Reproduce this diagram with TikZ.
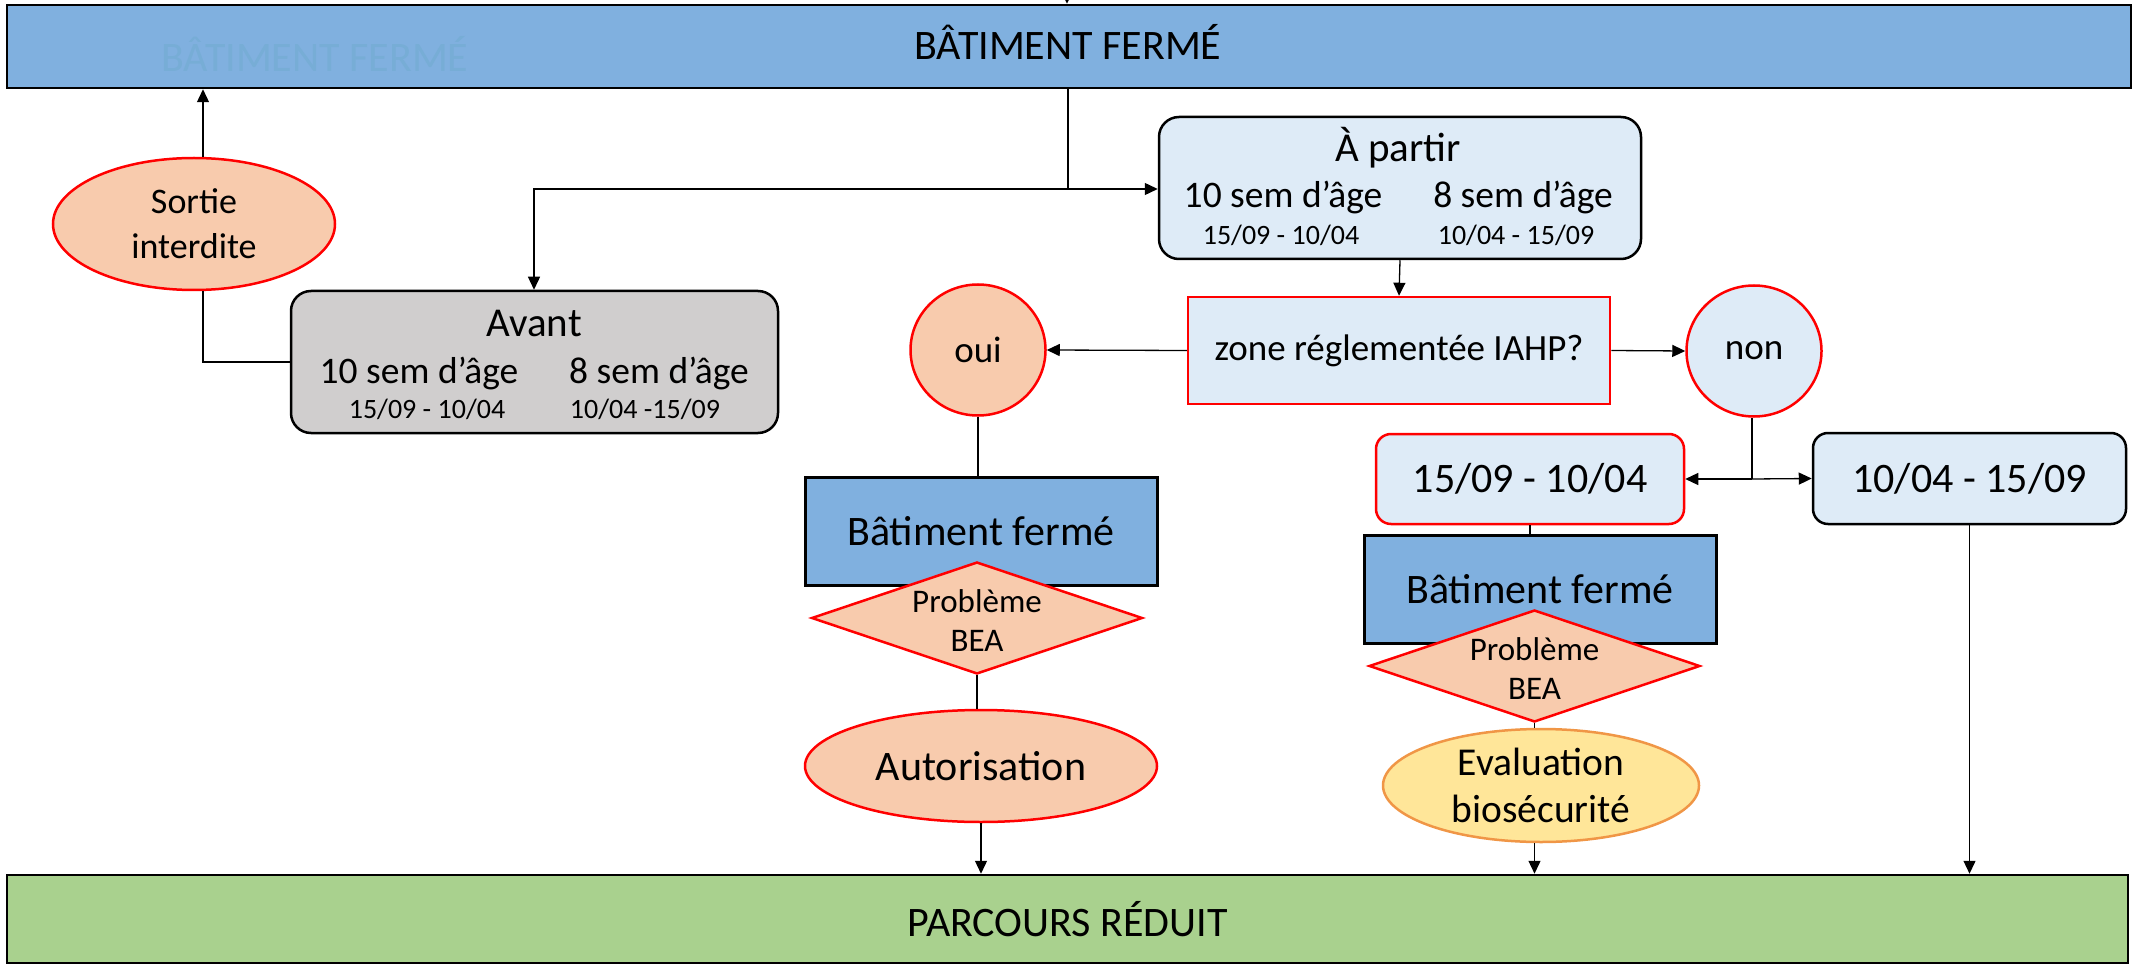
\documentclass[tikz,border=0pt]{standalone}
\usepackage{fontspec}
\setmainfont{Carlito}
\usetikzlibrary{arrows.meta,shapes.geometric}
\definecolor{barblue}{RGB}{128,176,223}
\definecolor{ghost}{RGB}{119,173,214}
\definecolor{bargreen}{RGB}{169,209,142}
\definecolor{lightblue}{RGB}{222,235,247}
\definecolor{greybox}{RGB}{208,206,206}
\definecolor{peach}{RGB}{248,203,173}
\definecolor{paleyellow}{RGB}{255,230,153}
\definecolor{orangeline}{RGB}{240,150,70}
\definecolor{redline}{RGB}{255,0,0}
\tikzset{
  fbig/.style={font=\fontsize{42}{50}\selectfont},
  fhead/.style={font=\fontsize{41}{49}\selectfont},
  fsem/.style={font=\fontsize{37.5}{45}\selectfont},
  fmid/.style={font=\fontsize{37}{45}\selectfont},
  fdate/.style={font=\fontsize{28}{34}\selectfont},
  bar/.style={draw=black, line width=2.5pt, rectangle, inner sep=0pt, fbig},
  rbox/.style={draw=black, line width=2.5pt, rectangle, rounded corners=20pt, inner sep=0pt},
  redbox/.style={draw=redline, line width=2.5pt, fill=lightblue, rectangle, inner sep=0pt},
  redell/.style={draw=redline, line width=2.5pt, ellipse, inner sep=0pt},
  dia/.style={draw=redline, line width=2.5pt, fill=peach, diamond, inner sep=0pt},
  batbox/.style={draw=black, line width=3pt, fill=barblue, rectangle, inner sep=0pt, fbig},
  txt/.style={inner sep=0pt, anchor=base},
  conn/.style={draw=black, line width=1.3pt},
  arr/.style={conn, -{Triangle[length=13pt,width=12pt]}},
}
\begin{document}
\begin{tikzpicture}[x=1pt,y=-1pt]
\useasboundingbox (0,0) rectangle (2138,965);

% bars
\node[bar, fill=barblue, minimum width=2124pt, minimum height=83pt] (top) at (1069,46.5) {};
\node[txt, fbig, text=ghost] (ghosttxt) at (315,72) {BÂTIMENT FERMÉ};
\node[txt, fbig] (toptxt) at (1068,60) {BÂTIMENT FERMÉ};
\node[bar, fill=bargreen, minimum width=2121pt, minimum height=88pt] (bottom) at (1067.5,919) {PARCOURS RÉDUIT};

% left part
\node[redell, fill=peach, minimum width=282pt, minimum height=132pt, align=center, font=\fontsize{36}{45}\selectfont] (sortie) at (194,224) {Sortie\\interdite};
\node[rbox, fill=greybox, minimum width=487pt, minimum height=142pt] (avant) at (534.5,362) {};
\node[txt, fhead] (avt) at (534,337) {Avant};
\node[txt, fsem] (av10) at (419,383) {10 sem d’âge};
\node[txt, fsem] (av8) at (659,383) {8 sem d’âge};
\node[txt, fdate] (avd1) at (427,418) {15/09 - 10/04};
\node[txt, fdate] (avd2) at (645,418) {10/04 -15/09};

% a partir
\node[rbox, fill=lightblue, minimum width=482pt, minimum height=142pt] (apartir) at (1400,188) {};
\node[txt, fhead] (apt) at (1398,162) {À partir};
\node[txt, fsem] (ap10) at (1283,208) {10 sem d’âge};
\node[txt, fsem] (ap8) at (1523,208) {8 sem d’âge};
\node[txt, fdate] (apd1) at (1281,245) {15/09 - 10/04};
\node[txt, fdate] (apd2) at (1516,245) {10/04 - 15/09};

% zone question
\node[redbox, minimum width=422pt, minimum height=107pt, fmid] (zone) at (1399,350.5) {zone réglementée IAHP?};
\node[redell, fill=peach, minimum width=135pt, minimum height=131pt, fmid] (oui) at (978,350) {oui};
\node[redell, fill=lightblue, minimum width=135pt, minimum height=131pt, fmid] (non) at (1754,351) {non};

% oui branch
\node[batbox, minimum width=352pt, minimum height=108pt] (bat1) at (981,531) {Bâtiment fermé};
\node[dia, minimum width=331pt, minimum height=112pt] (dia1) at (977,618) {};
\node[inner sep=0pt, align=center, font=\fontsize{33}{39}\selectfont] (dia1t) at (977,621) {Problème\\BEA};
\node[redell, fill=peach, minimum width=352pt, minimum height=112pt, font=\fontsize{42}{50}\selectfont] (autor) at (981,766) {Autorisation};

% non branch
\node[rbox, draw=redline, fill=lightblue, minimum width=308pt, minimum height=90pt, font=\fontsize{42}{50}\selectfont, rounded corners=15pt] (p1) at (1530,479) {15/09 - 10/04};
\node[rbox, fill=lightblue, minimum width=313pt, minimum height=91pt, font=\fontsize{42}{50}\selectfont, rounded corners=15pt] (p2) at (1969.5,478.5) {10/04 - 15/09};
\node[batbox, minimum width=352pt, minimum height=108pt] (bat2) at (1540,589) {Bâtiment fermé};
\node[dia, minimum width=331pt, minimum height=112pt] (dia2) at (1534.5,666) {};
\node[inner sep=0pt, align=center, font=\fontsize{33}{39}\selectfont] (dia2t) at (1534.5,669) {Problème\\BEA};
\node[draw=orangeline, line width=2.5pt, fill=paleyellow, ellipse, inner sep=0pt, minimum width=316pt, minimum height=113pt, align=center, font=\fontsize{39.5}{47}\selectfont] (eval) at (1541,785.5) {Evaluation\\biosécurité};

% connectors
\coordinate (topin) at (1067,-20);
\draw[arr] (topin) -- (top.north -| topin);
\coordinate (split) at (1068,189);
\draw[conn] (top.south -| split) -- (split);
\draw[arr] (split) -- (apartir.west |- split);
\draw[arr] (split) -- (534,189) -- (avant.north -| 534,0);
\coordinate (sx) at (203,362);
\draw[conn] (avant.west |- sx) -- (sx) -- (sortie.south -| sx);
\draw[arr] (sortie.north -| sx) -- (top.south -| sx);
\draw[arr] (apartir.south) -- (zone.north);
\draw[arr] (zone.west) -- (oui.east);
\draw[arr] (zone.east) -- (non.west);
\draw[conn] (oui.south) -- (bat1.north -| oui.south);
\draw[conn] (dia1.south) -- (autor.north -| dia1.south);
\draw[arr] (autor.south) -- (bottom.north -| autor.south);
\coordinate (nsplit) at (1752,479);
\draw[conn] (non.south -| nsplit) -- (nsplit);
\draw[arr] (nsplit) -- (p1.east);
\draw[arr] (nsplit) -- (p2.west);
\draw[conn] (p1.south) -- (bat2.north -| p1.south);
\draw[conn] (dia2.south) -- (eval.north -| dia2.south);
\draw[arr] (eval.south -| dia2.south) -- (bottom.north -| dia2.south);
\draw[arr] (p2.south) -- (bottom.north -| p2.south);
\end{tikzpicture}
\end{document}
